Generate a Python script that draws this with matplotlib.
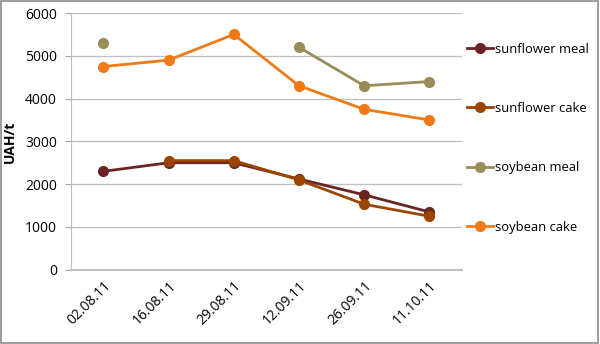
"""Oilseed meal and cake prices, UAH per tonne."""
import numpy as np
import matplotlib.pyplot as plt

dates = ['02.08.11', '16.08.11', '29.08.11', '12.09.11', '26.09.11', '11.10.11']
sunflower_meal = [2300, 2500, 2500, 2120, 1750, 1350]
sunflower_cake = [np.nan, 2550, 2550, 2100, 1530, 1250]
soybean_meal = [5300, np.nan, np.nan, 5200, 4300, 4400]
soybean_cake = [4750, 4900, 5500, 4300, 3750, 3500]

series = [
    ('sunflower meal', sunflower_meal, '#6B2424'),
    ('sunflower cake', sunflower_cake, '#9B4500'),
    ('soybean meal', soybean_meal, '#9A8C58'),
    ('soybean cake', soybean_cake, '#F07A18'),
]

plt.rcParams['font.family'] = ['Open Sans', 'DejaVu Sans']

fig = plt.figure(figsize=(6.0, 3.44), dpi=100)
ax = fig.add_axes([0.118, 0.216, 0.652, 0.746])

x = np.arange(len(dates))
for name, values, color in series:
    ax.plot(x, values, color=color, lw=2, marker='o', ms=7, label=name)

ax.set_xlim(-0.5, len(dates) - 0.5)
ax.set_ylim(0, 6000)
ax.set_yticks(range(0, 6001, 1000))
ax.set_xticks(x)
ax.set_xticklabels(dates, rotation=45, ha='right', rotation_mode='anchor')
ax.tick_params(axis='both', labelsize=10, length=0, pad=6)
ax.tick_params(axis='y', length=4, color='#A6A6A6', direction='out')
ax.grid(axis='y', color='#BFBFBF', lw=0.9)
ax.set_axisbelow(True)
for side in ('top', 'right'):
    ax.spines[side].set_visible(False)
ax.spines['left'].set_color('#BFBFBF')
ax.spines['bottom'].set_color('#BFBFBF')
ax.spines['bottom'].set_linewidth(1.5)
ax.set_ylabel('UAH/t', fontsize=10, fontweight='bold', labelpad=6)

ax.legend(loc='upper left', bbox_to_anchor=(1.0, 0.905), frameon=False,
          fontsize=9.4, labelspacing=3.55, handlelength=2.0,
          handletextpad=0.1, borderaxespad=0.0)

fig.patches.append(plt.Rectangle((0.002, 0.003), 0.995, 0.994, transform=fig.transFigure,
                                 fill=False, edgecolor='#8C8C8C', lw=1.2))

fig.savefig('out.png', dpi=100)
